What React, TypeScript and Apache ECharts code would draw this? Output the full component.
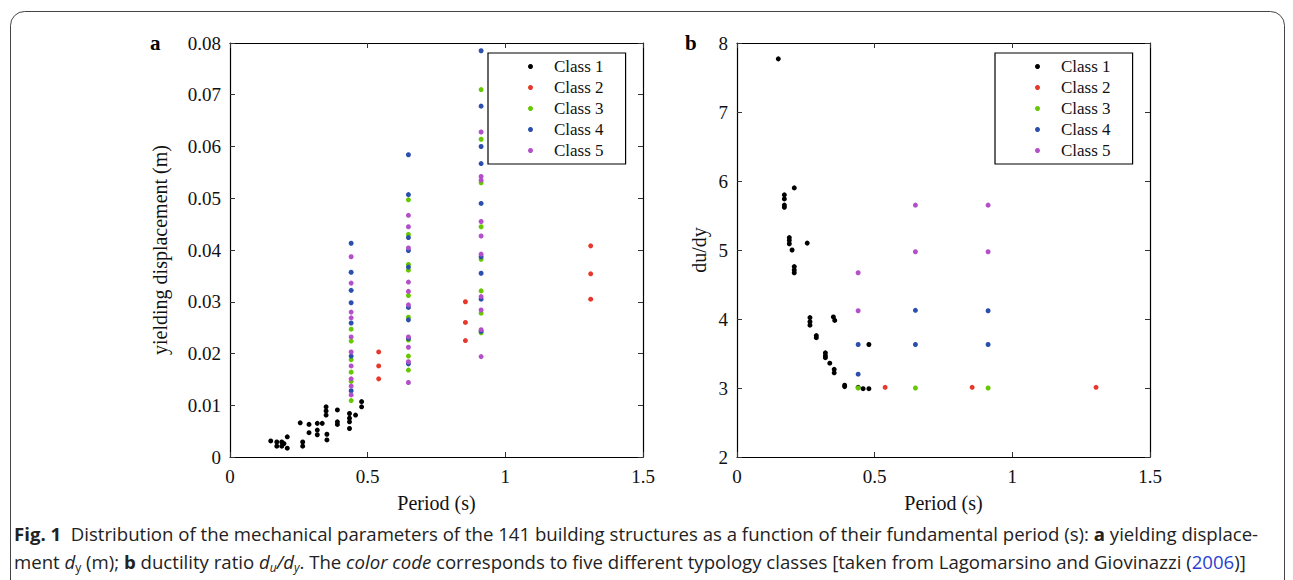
import React, { useEffect, useRef } from "react";
import * as echarts from "echarts";

const classNames = ["Class 1", "Class 2", "Class 3", "Class 4", "Class 5"];
const classColors = ["#000000", "#e6392c", "#66c800", "#2b4fae", "#b34fc8"];

// Panel a: [period (s), yielding displacement (m)]
const class1A = [
  [0.148, 0.0031], [0.17, 0.0029], [0.17, 0.0021], [0.188, 0.0029], [0.188, 0.0021],
  [0.196, 0.0026], [0.208, 0.0039], [0.208, 0.0017], [0.255, 0.0066], [0.264, 0.0029],
  [0.264, 0.0021], [0.287, 0.0063], [0.287, 0.0047], [0.317, 0.0065], [0.317, 0.0052],
  [0.317, 0.0043], [0.335, 0.0065], [0.349, 0.0097], [0.349, 0.0089], [0.349, 0.0081],
  [0.352, 0.0044], [0.352, 0.0033], [0.39, 0.0091], [0.39, 0.0068], [0.39, 0.0063],
  [0.434, 0.0084], [0.434, 0.0075], [0.434, 0.0068], [0.434, 0.0055], [0.456, 0.0081],
  [0.478, 0.0107], [0.478, 0.0097],
];
const class2A = [
  [0.54, 0.0203], [0.54, 0.0176], [0.54, 0.0151],
  [0.855, 0.03], [0.855, 0.026], [0.855, 0.0225],
  [1.31, 0.0408], [1.31, 0.0354], [1.31, 0.0305],
];
const class3A = [
  [0.44, 0.0247], [0.44, 0.0224], [0.44, 0.0188], [0.44, 0.0164], [0.44, 0.0146], [0.44, 0.0109],
  [0.648, 0.0497], [0.648, 0.043], [0.648, 0.0372], [0.648, 0.0361], [0.648, 0.0312],
  [0.648, 0.027], [0.648, 0.0226], [0.648, 0.0195], [0.648, 0.0168],
  [0.912, 0.071], [0.912, 0.0614], [0.912, 0.053], [0.912, 0.0445], [0.912, 0.0382],
  [0.912, 0.0321], [0.912, 0.0278], [0.912, 0.024],
];
const class4A = [
  [0.44, 0.0413], [0.44, 0.0357], [0.44, 0.0322], [0.44, 0.0298], [0.44, 0.0259], [0.44, 0.0195], [0.44, 0.0128],
  [0.648, 0.0584], [0.648, 0.0507], [0.648, 0.0424], [0.648, 0.0399], [0.648, 0.0367],
  [0.648, 0.0289], [0.648, 0.0265], [0.648, 0.0229], [0.648, 0.018],
  [0.912, 0.0785], [0.912, 0.0678], [0.912, 0.06], [0.912, 0.0567], [0.912, 0.049],
  [0.912, 0.0387], [0.912, 0.0355], [0.912, 0.0305], [0.912, 0.0243],
];
const class5A = [
  [0.44, 0.0387], [0.44, 0.0336], [0.44, 0.028], [0.44, 0.0269], [0.44, 0.0232],
  [0.44, 0.0203], [0.44, 0.0176], [0.44, 0.0151], [0.44, 0.0137], [0.44, 0.012],
  [0.648, 0.0467], [0.648, 0.0445], [0.648, 0.0404], [0.648, 0.0338], [0.648, 0.032],
  [0.648, 0.0294], [0.648, 0.0232], [0.648, 0.0212], [0.648, 0.0184], [0.648, 0.0144],
  [0.912, 0.0628], [0.912, 0.0542], [0.912, 0.0535], [0.912, 0.0455], [0.912, 0.0427],
  [0.912, 0.0392], [0.912, 0.031], [0.912, 0.0284], [0.912, 0.0246], [0.912, 0.0194],
];

// Panel b: [period (s), du/dy]
const class1B = [
  [0.15, 7.77], [0.172, 5.8], [0.172, 5.74], [0.172, 5.65], [0.172, 5.62], [0.208, 5.9],
  [0.19, 5.18], [0.19, 5.14], [0.19, 5.09], [0.2, 5.0], [0.255, 5.1],
  [0.208, 4.76], [0.208, 4.71], [0.208, 4.67], [0.265, 4.02], [0.265, 3.96], [0.265, 3.91],
  [0.35, 4.03], [0.355, 3.98], [0.288, 3.76], [0.288, 3.73], [0.321, 3.51], [0.321, 3.47],
  [0.321, 3.44], [0.337, 3.36], [0.353, 3.27], [0.353, 3.22], [0.391, 3.04], [0.391, 3.02],
  [0.44, 3.01], [0.458, 2.99], [0.479, 2.99], [0.479, 3.63],
];
const class2B = [[0.538, 3.01], [0.854, 3.01], [1.304, 3.01]];
const class3B = [[0.44, 3.0], [0.648, 3.0], [0.912, 3.0]];
const class4B = [[0.44, 3.63], [0.44, 3.2], [0.648, 4.126], [0.648, 3.63], [0.912, 4.12], [0.912, 3.63]];
const class5B = [[0.44, 4.67], [0.44, 4.12], [0.648, 5.65], [0.648, 4.975], [0.912, 5.65], [0.912, 4.975]];

const panelA = [class1A, class2A, class3A, class4A, class5A];
const panelB = [class1B, class2B, class3B, class4B, class5B];

const SERIF = "Liberation Serif";

export default function App() {
  const ref = useRef<HTMLDivElement>(null);
  useEffect(() => {
    document.body.style.margin = "0";
    const chart = echarts.init(ref.current!, null, { renderer: "svg" });

    const tickStyle = { show: true, inside: true, length: 5, lineStyle: { color: "#333", width: 1 } };
    const lbl = { fontFamily: SERIF, fontSize: 19, color: "#111" };
    const mkX = (gi: number, pos: string, show: boolean) => ({
      type: "value", gridIndex: gi, min: 0, max: 1.5, interval: 0.5, position: pos,
      axisLine: { show: true, onZero: false, lineStyle: { color: "#000", width: 1.2 } },
      axisTick: tickStyle, splitLine: { show: false },
      axisLabel: show ? { ...lbl, margin: 10, formatter: (v: number) => String(v) } : { show: false },
      name: show ? "Period (s)" : "", nameLocation: "middle", nameGap: 36,
      nameTextStyle: { fontFamily: SERIF, fontSize: 20, color: "#111" },
    });
    const mkY = (gi: number, pos: string, show: boolean, a: boolean) => ({
      type: "value", gridIndex: gi, position: pos,
      min: a ? 0 : 2, max: a ? 0.08 : 8, interval: a ? 0.01 : 1,
      axisLine: { show: true, onZero: false, lineStyle: { color: "#000", width: 1.2 } },
      axisTick: tickStyle, splitLine: { show: false },
      axisLabel: show
        ? { ...lbl, margin: 9, formatter: (v: number) => (a ? (v === 0 ? "0" : v.toFixed(2)) : String(v)) }
        : { show: false },
      name: show ? (a ? "yielding displacement (m)" : "du/dy") : "",
      nameLocation: "middle", nameGap: a ? 60 : 28,
      nameTextStyle: { fontFamily: SERIF, fontSize: 20, color: "#111" },
    });

    const series: any[] = [];
    [panelA, panelB].forEach((panel, gi) => {
      panel.forEach((data, ci) => {
        series.push({
          type: "scatter", name: classNames[ci], xAxisIndex: gi * 2, yAxisIndex: gi * 2,
          data, symbol: "circle", symbolSize: 5,
          itemStyle: { color: classColors[ci], opacity: 1 }, emphasis: { disabled: true },
        });
      });
    });

    const mkLegend = (left: number) => ({
      show: true, orient: "vertical", left, top: 53,
      data: classNames, icon: "circle", itemWidth: 5, itemHeight: 5, itemGap: 0,
      borderColor: "#000", borderWidth: 1.2, padding: [3, 22, 3, 40],
      itemStyle: { opacity: 1 },
      textStyle: { fontFamily: SERIF, fontSize: 17, color: "#111", lineHeight: 21, padding: [0, 0, 0, 16] },
      selectedMode: false,
    });

    const F = "18.6px 'Open Sans'";
    const caption1 =
      "{b|Fig. 1}{n|  Distribution of the mechanical parameters of the 141 building structures as a function of their fundamental period (s): }{b|a}{n| yielding displace-}";
    const caption2 =
      "{n|ment }{i|d}{sub|y}{n| (m); }{b|b}{n| ductility ratio }{i|d}{subi|u}{i|/d}{subi|y}{n|. The }{i|color code}{n| corresponds to five different typology classes [taken from Lagomarsino and Giovinazzi (}{lnk|2006}{n|)]}";
    const rich = {
      n: { font: F, fill: "#222", lineHeight: 22 },
      b: { font: "bold " + F, fill: "#222", lineHeight: 22 },
      i: { font: "italic " + F, fill: "#222", lineHeight: 22 },
      sub: { font: "12px 'Open Sans'", fill: "#222", lineHeight: 22, padding: [11, 0, 0, 0] },
      subi: { font: "italic 12px 'Open Sans'", fill: "#222", lineHeight: 22, padding: [11, 0, 0, 0] },
      lnk: { font: F, fill: "#2a3fd0", lineHeight: 22 },
    };

    chart.setOption({
      animation: false,
      grid: [
        { left: 230, top: 43, width: 413, height: 414, show: false },
        { left: 737, top: 43, width: 413, height: 414, show: false },
      ],
      xAxis: [mkX(0, "bottom", true), mkX(0, "top", false), mkX(1, "bottom", true), mkX(1, "top", false)],
      yAxis: [mkY(0, "left", true, true), mkY(0, "right", false, true), mkY(1, "left", true, false), mkY(1, "right", false, false)],
      legend: [mkLegend(488), mkLegend(995)],
      series,
      graphic: [
        {
          type: "rect", silent: true, z: -1,
          shape: { x: 10.5, y: 11.5, width: 1274, height: 640, r: 14 },
          style: { fill: "none", stroke: "#444", lineWidth: 1 },
        },
        { type: "text", left: 150, top: 32, style: { text: "a", font: "bold 21px 'Liberation Serif'", fill: "#000" } },
        { type: "text", left: 685, top: 32, style: { text: "b", font: "bold 21px 'Liberation Serif'", fill: "#000" } },
        {
          type: "text", left: 14, top: 524,
          style: { text: caption1, rich, font: F, fill: "#222" },
        },
        {
          type: "text", left: 14, top: 550,
          style: { text: caption2, rich, font: F, fill: "#222" },
        },
      ],
    });
    return () => chart.dispose();
  }, []);
  return <div ref={ref} style={{ width: 1293, height: 580 }} />;
}
